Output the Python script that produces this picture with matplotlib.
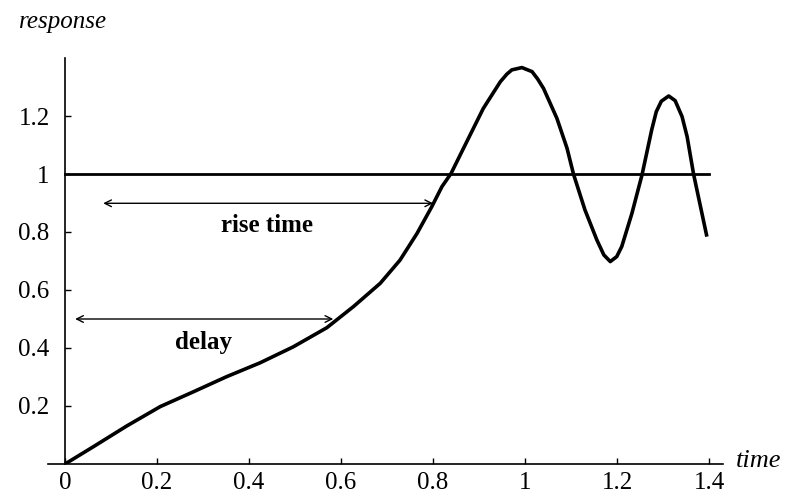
import numpy as np
import matplotlib.pyplot as plt

plt.rcParams['font.family'] = ['Liberation Serif', 'DejaVu Serif']

# response curve
t = [0.0, 0.062, 0.134, 0.207, 0.279, 0.351, 0.424, 0.496, 0.569, 0.627,
     0.685, 0.728, 0.765, 0.797, 0.819, 0.839, 0.873, 0.909, 0.946, 0.960,
     0.971, 0.993, 1.015, 1.027, 1.040, 1.069, 1.091, 1.105, 1.130, 1.156,
     1.171, 1.185, 1.199, 1.210, 1.232, 1.254, 1.275, 1.285, 1.296, 1.312,
     1.326, 1.341, 1.352, 1.366, 1.395]
resp = [0.0, 0.06, 0.131, 0.198, 0.249, 0.301, 0.349, 0.404, 0.470, 0.543,
        0.623, 0.703, 0.795, 0.887, 0.956, 1.002, 1.111, 1.226, 1.318, 1.344,
        1.359, 1.367, 1.353, 1.328, 1.295, 1.192, 1.089, 1.0, 0.876, 0.772,
        0.721, 0.698, 0.715, 0.750, 0.864, 0.997, 1.152, 1.215, 1.251, 1.269,
        1.253, 1.198, 1.129, 1.0, 0.784]

ref_level = 1.0
delay_span = (0.022, 0.583, 0.5)
rise_span = (0.083, 0.80, 0.899)

xticks = [0, 0.2, 0.4, 0.6, 0.8, 1, 1.2, 1.4]
xlabels = ['0', '0.2', '0.4', '0.6', '0.8', '1', '1.2', '1.4']
yticks = [0.2, 0.4, 0.6, 0.8, 1, 1.2]
ylabels = ['0.2', '0.4', '0.6', '0.8', '1', '1.2']

fig = plt.figure(figsize=(7.89, 4.95), dpi=100)
ax = fig.add_axes([48 / 789, 31 / 495, 675 / 789, 406 / 495])
ax.set_xlim(-0.037, 1.43)
ax.set_ylim(0, 1.40)

ax.plot(t, resp, color='black', lw=2.6, solid_joinstyle='round', solid_capstyle='butt')
ax.plot([0, 1.4], [ref_level, ref_level], color='black', lw=2.0)

for x0, x1, y in [delay_span, rise_span]:
    ax.annotate('', xy=(x1, y), xytext=(x0, y),
                arrowprops=dict(arrowstyle='<->', lw=1.0, color='black',
                                shrinkA=0, shrinkB=0, mutation_scale=12))

ax.text(0.438, 0.824, 'rise time', fontsize=18, fontweight='bold', ha='center', va='center')
ax.text(0.30, 0.42, 'delay', fontsize=18, fontweight='bold', ha='center', va='center')

ax.spines['top'].set_visible(False)
ax.spines['right'].set_visible(False)
ax.spines['left'].set_position(('data', 0))
for s in ['left', 'bottom']:
    ax.spines[s].set_linewidth(1.2)

ax.set_xticks(xticks, xlabels)
ax.set_yticks(yticks, ylabels)
ax.tick_params(direction='in', length=4, width=1.0, labelsize=18)
ax.tick_params(axis='x', pad=6)
ax.tick_params(axis='y', pad=11)

fig.text(19 / 789, 1 - 22 / 495, 'response', fontsize=18, style='italic', va='center', ha='left')
fig.text(736 / 789, 1 - 461 / 495, 'time', fontsize=19, style='italic', va='center', ha='left')

fig.savefig('out.png', dpi=100)
